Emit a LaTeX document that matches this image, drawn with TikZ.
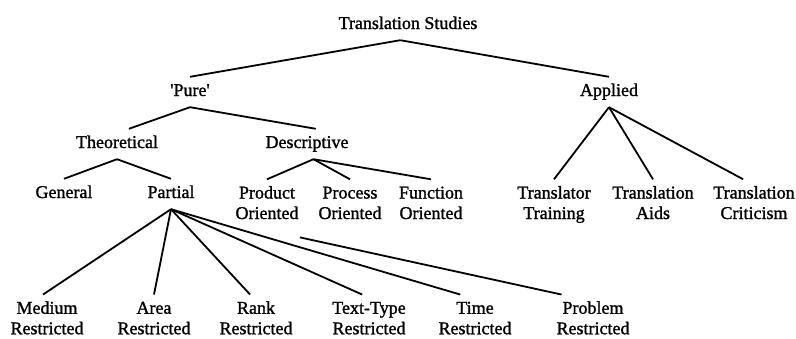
\documentclass[tikz,border=0pt]{standalone}
\usepackage{fontspec}
\setmainfont{Liberation Serif}[AutoFakeBold=1.3]
\usetikzlibrary{calc}

\begin{document}
\begin{tikzpicture}[x=1pt,y=-1pt,
    term/.style={font=\fontsize{18}{20.5}\selectfont\bfseries, align=center,
        inner xsep=2pt, inner ysep=7pt, text height=12pt, text depth=4pt},
    pair/.style={term, text height=32.5pt},
    branch/.style={line width=1.8pt}]
		\useasboundingbox (0,0) rectangle (796,338);

		% top levels
		\node[term] (root) at (408,25) {Translation Studies};
		\node[term] (pure) at (190,92) {\textquotesingle Pure\textquotesingle};
		\node[term] (applied) at (609,92) {Applied};

		\node[term] (theo) at (117,144) {Theoretical};
		\node[term] (desc) at (307,144) {Descriptive};

		\node[term] (general) at (64,194) {General};
		\node[term] (partial) at (171,194) {Partial};
		\node[pair] (product) at (267,204.75) {Product\\Oriented};
		\node[pair] (process) at (350,204.75) {Process\\Oriented};
		\node[pair] (function) at (431,204.75) {Function\\Oriented};
		\node[pair] (training) at (554,204.75) {Translator\\Training};
		\node[pair] (aids) at (653,204.75) {Translation\\Aids};
		\node[pair] (criticism) at (754,204.75) {Translation\\Criticism};

		% restricted row
		\node[pair] (medium) at (47,320) {Medium\\Restricted};
		\node[pair] (area) at (154,320) {Area\\Restricted};
		\node[pair] (rank) at (256,320) {Rank\\Restricted};
		\node[pair] (texttype) at (369,320) {Text-Type\\Restricted};
		\node[pair] (time) at (475,320) {Time\\Restricted};
		\node[pair] (problem) at (593,320) {Problem\\Restricted};

		% branches
		\draw[branch] (root.243) -- (pure.north);
		\draw[branch] (root.243) -- (applied.north);

		\draw[branch] (pure.south) -- (theo.52);
		\draw[branch] (pure.south) -- (desc.60);

		\draw[branch] (applied.south) -- (training.north);
		\draw[branch] (applied.south) -- (aids.north);
		\draw[branch] (applied.south) -- (criticism.113);

		\draw[branch] (theo.south) -- (general.north);
		\draw[branch] (theo.south) -- (partial.north);

		\draw[branch] (desc.293) -- (product.north);
		\draw[branch] (desc.293) -- (process.north);
		\draw[branch] (desc.293) -- (function.north);

		\draw[branch] (partial.south) -- (medium.99);
		\draw[branch] (partial.south) -- (area.north);
		\draw[branch] (partial.south) -- (rank.103);
		\draw[branch] (partial.south) -- (texttype.105);
		\draw[branch] (partial.south) -- (time.120);
		\coordinate (gap) at ($(partial.south)!0.33!(problem.141)$);
		\draw[branch] (gap) -- (problem.141);
\end{tikzpicture}
\end{document}
